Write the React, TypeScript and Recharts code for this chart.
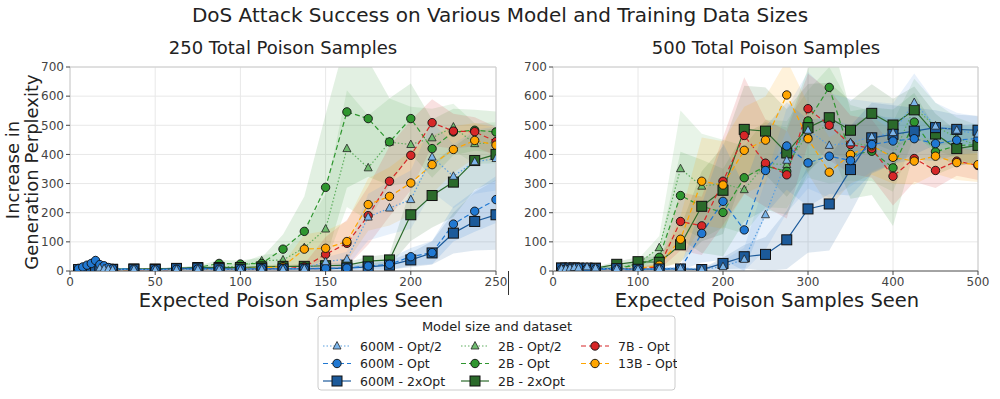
import React from "react";
import { ComposedChart, Line, Area, XAxis, YAxis, CartesianGrid, ReferenceLine } from "recharts";

const FONT = "'DejaVu Sans', sans-serif";

const yTicks = [0, 100, 200, 300, 400, 500, 600, 700];

// ---- 250 total poison samples (left panel) ----
const x250Small = [5, 7.5, 10, 12.5, 15, 17.5, 20, 22.5, 25, 37.5, 50, 62.5, 75, 87.5, 100, 112.5, 125, 137.5, 150, 162.5, 175, 187.5, 200, 212.5, 225, 237.5, 250];
const x250Half = [17.5, 20, 22.5, 25, 37.5, 50, 62.5, 75, 87.5, 100, 112.5, 125, 137.5, 150, 162.5, 175, 187.5, 200, 212.5, 225, 237.5, 250];
const x250 = [12.5, 25, 37.5, 50, 62.5, 75, 87.5, 100, 112.5, 125, 137.5, 150, 162.5, 175, 187.5, 200, 212.5, 225, 237.5, 250];

const m600half250 = [10, 8, 7, 5, 6, 4, 5, 6, 5, 5, 6, 6, 8, 32, 41, 185, 216, 245, 391, 325, 375, 386];
const m600halfErr250 = [10, 8, 6, 5, 3, 3, 3, 3, 3, 3, 3, 3, 4, 15, 25, 80, 90, 100, 120, 110, 110, 110];
const m600opt250 = [8, 14, 20, 26, 36, 22, 18, 12, 8, 6, 5, 6, 7, 6, 7, 8, 8, 8, 9, 10, 17, 23, 49, 63, 161, 205, 245];
const m600optErr250 = [5, 8, 12, 15, 20, 12, 8, 6, 4, 3, 3, 3, 3, 3, 3, 3, 3, 3, 5, 8, 12, 20, 30, 40, 60, 70, 80];
const m600x2_250 = [5, 6, 6, 6, 7, 6, 6, 6, 5, 6, 5, 8, 10, 8, 6, 8, 7, 7, 8, 10, 14, 20, 38, 62, 130, 170, 193];
const m600x2Err250 = [4, 5, 5, 5, 6, 5, 5, 5, 4, 3, 3, 3, 3, 3, 3, 3, 3, 3, 4, 6, 10, 15, 25, 40, 70, 100, 120];

const b2half250 = [5, 5, 6, 6, 7, 8, 14, 16, 35, 38, 80, 144, 420, 354, 442, 434, 457, 494, 437, 440];
const b2halfErr250 = [3, 3, 3, 3, 3, 4, 8, 10, 20, 25, 60, 120, 200, 180, 150, 130, 100, 80, 70, 70];
const b2opt250 = [6, 6, 6, 6, 8, 12, 26, 24, 26, 75, 136, 287, 546, 523, 443, 523, 420, 477, 483, 477];
const b2optErr250 = [3, 3, 3, 3, 4, 6, 12, 12, 20, 50, 120, 250, 260, 200, 150, 120, 100, 80, 70, 70];
const b2x2_250 = [6, 6, 7, 7, 9, 12, 12, 12, 14, 16, 16, 18, 20, 34, 38, 193, 259, 305, 379, 400];
const b2x2Err250 = [3, 3, 3, 3, 4, 5, 5, 5, 6, 6, 6, 8, 10, 15, 20, 90, 110, 120, 100, 90];
const b7opt250 = [5, 5, 5, 5, 5, 6, 6, 6, 7, 8, 14, 57, 95, 190, 308, 397, 509, 480, 478, 444];
const b7Err250 = [3, 3, 3, 3, 3, 3, 3, 3, 4, 6, 10, 60, 80, 100, 120, 120, 80, 60, 50, 50];
const b13opt250 = [5, 5, 5, 6, 6, 6, 7, 8, 10, 15, 75, 78, 101, 228, 256, 302, 365, 417, 448, 432];
const b13Err250 = [3, 3, 3, 3, 3, 3, 4, 5, 6, 10, 50, 60, 70, 90, 100, 110, 100, 80, 60, 60];

// ---- 500 total poison samples (right panel) ----
const x500Small = [10, 15, 20, 25, 30, 40, 50, 75, 100, 125, 150, 175, 200, 225, 250, 275, 300, 325, 350, 375, 400, 425, 450, 475, 500];
const x500 = [10, 25, 50, 75, 100, 125, 150, 175, 200, 225, 250, 275, 300, 325, 350, 375, 400, 425, 450, 475, 500];

const m600half500 = [8, 8, 10, 12, 10, 14, 10, 8, 6, 8, 10, 6, 15, 40, 193, 380, 483, 431, 440, 461, 475, 578, 497, 483, 470];
const m600halfErr500 = [5, 5, 5, 5, 5, 6, 5, 4, 4, 4, 5, 5, 20, 40, 120, 180, 200, 180, 150, 120, 100, 100, 80, 60, 60];
const m600opt500 = [5, 6, 8, 10, 12, 8, 6, 5, 5, 6, 8, 129, 239, 141, 345, 429, 371, 394, 379, 434, 446, 454, 437, 449, 455];
const m600optErr500 = [4, 4, 5, 6, 6, 5, 4, 4, 4, 4, 6, 100, 200, 150, 150, 150, 150, 130, 120, 100, 80, 70, 60, 50, 50];
const m600x2_500 = [10, 10, 10, 10, 10, 10, 8, 8, 6, 7, 7, 5, 26, 49, 57, 107, 213, 230, 348, 457, 469, 480, 492, 486, 483];
const m600x2Err500 = [5, 5, 5, 5, 5, 5, 4, 4, 4, 4, 4, 4, 20, 40, 60, 100, 150, 160, 150, 120, 100, 80, 60, 50, 50];

const b2half500 = [8, 8, 8, 10, 25, 80, 351, 291, 300, 279, 369, 365, 470, 500, 440, 429, 392, 560, 497, 457, 430];
const b2halfErr500 = [4, 4, 4, 5, 15, 40, 200, 180, 150, 150, 150, 150, 150, 200, 130, 120, 120, 100, 80, 70, 70];
const b2opt500 = [8, 8, 8, 10, 21, 47, 259, 222, 201, 320, 360, 342, 515, 630, 398, 411, 354, 511, 409, 430, 434];
const b2optErr500 = [4, 4, 4, 5, 12, 30, 150, 160, 150, 150, 150, 150, 180, 200, 150, 150, 200, 100, 80, 70, 60];
const b2x2_500 = [10, 10, 10, 23, 32, 30, 90, 222, 277, 486, 480, 405, 492, 526, 483, 541, 501, 553, 470, 420, 431];
const b2x2Err500 = [5, 5, 5, 10, 15, 20, 60, 120, 150, 150, 150, 150, 150, 120, 100, 100, 90, 80, 70, 60, 60];
const b7opt500 = [6, 6, 6, 6, 8, 15, 170, 155, 308, 465, 370, 330, 557, 500, 434, 420, 325, 386, 345, 377, 362];
const b7Err500 = [4, 4, 4, 4, 6, 10, 100, 100, 150, 200, 150, 150, 120, 120, 100, 100, 100, 80, 60, 50, 50];
const b13opt500 = [6, 6, 6, 6, 8, 20, 109, 308, 295, 414, 449, 604, 454, 339, 400, 430, 390, 377, 394, 372, 365];
const b13Err500 = [4, 4, 4, 4, 6, 12, 80, 150, 150, 150, 150, 120, 120, 120, 100, 100, 90, 80, 60, 60, 60];

type Shape = "triangle" | "circle" | "square";
type Style = { name: string; color: string; marker: string; dash?: string; shape: Shape };

const styles: Record<string, Style> = {
  m600half: { name: "600M - Opt/2", color: "#5a9fe0", marker: "#7cb5ea", dash: "1.5 2", shape: "triangle" },
  m600opt: { name: "600M - Opt", color: "#2078d2", marker: "#2078d2", dash: "5 3", shape: "circle" },
  m600x2: { name: "600M - 2xOpt", color: "#1c5a9a", marker: "#1c5a9a", shape: "square" },
  b2half: { name: "2B - Opt/2", color: "#5fae5f", marker: "#6fbb6f", dash: "1.5 2", shape: "triangle" },
  b2opt: { name: "2B - Opt", color: "#2f962f", marker: "#2f962f", dash: "5 3", shape: "circle" },
  b2x2: { name: "2B - 2xOpt", color: "#2b6a2b", marker: "#2b6a2b", shape: "square" },
  b7: { name: "7B - Opt", color: "#d62728", marker: "#d62728", dash: "5 3", shape: "circle" },
  b13: { name: "13B - Opt", color: "#ffa500", marker: "#ffa500", dash: "5 3", shape: "circle" },
};

const build = (xs: number[], ys: number[], err: number[]) =>
  xs.map((x, i) => ({ x, y: ys[i], band: [Math.max(0, ys[i] - err[i]), ys[i] + err[i]] }));

// draw order: back to front
const left = [
  { k: "b2half", d: build(x250, b2half250, b2halfErr250) },
  { k: "b2opt", d: build(x250, b2opt250, b2optErr250) },
  { k: "b2x2", d: build(x250, b2x2_250, b2x2Err250) },
  { k: "b7", d: build(x250, b7opt250, b7Err250) },
  { k: "b13", d: build(x250, b13opt250, b13Err250) },
  { k: "m600x2", d: build(x250Small, m600x2_250, m600x2Err250) },
  { k: "m600opt", d: build(x250Small, m600opt250, m600optErr250) },
  { k: "m600half", d: build(x250Half, m600half250, m600halfErr250) },
];

const right = [
  { k: "b2half", d: build(x500, b2half500, b2halfErr500) },
  { k: "b2opt", d: build(x500, b2opt500, b2optErr500) },
  { k: "b2x2", d: build(x500, b2x2_500, b2x2Err500) },
  { k: "b7", d: build(x500, b7opt500, b7Err500) },
  { k: "b13", d: build(x500, b13opt500, b13Err500) },
  { k: "m600x2", d: build(x500Small, m600x2_500, m600x2Err500) },
  { k: "m600opt", d: build(x500Small, m600opt500, m600optErr500) },
  { k: "m600half", d: build(x500Small, m600half500, m600halfErr500) },
];

const markerEl = (shape: Shape, cx: number, cy: number, fill: string, key?: any) => {
  if (shape === "square")
    return <rect key={key} x={cx - 5} y={cy - 5} width={10} height={10} fill={fill} stroke="#111" strokeWidth={1} />;
  if (shape === "circle")
    return <circle key={key} cx={cx} cy={cy} r={4.2} fill={fill} stroke="#111" strokeWidth={0.9} />;
  return (
    <path key={key} d={`M${cx},${cy - 4.5}L${cx + 4},${cy + 3}L${cx - 4},${cy + 3}Z`} fill={fill} stroke="#222" strokeWidth={0.8} />
  );
};

const makeDot = (s: Style) => (p: any) => {
  const { cx, cy, index } = p;
  if (cx == null || cy == null || isNaN(cy)) return <g key={"e" + index} />;
  return markerEl(s.shape, cx, cy, s.marker, "d" + index);
};

const tickStyle = { fontSize: 12, fill: "#444", fontFamily: FONT };

function Panel(props: { series: { k: string; d: any[] }[]; xMax: number; xTicks: number[]; left: number; width: number; yWidth: number; rightMargin: number }) {
  const { series, xMax, xTicks, width, yWidth, rightMargin } = props;
  return (
    <div style={{ position: "absolute", left: props.left, top: 0 }}>
      <ComposedChart width={width} height={310} margin={{ top: 67, right: rightMargin, bottom: 0, left: 0 }}>
        <CartesianGrid stroke="#e8e8e8" />
        <XAxis
          type="number"
          dataKey="x"
          domain={[0, xMax]}
          ticks={xTicks}
          allowDataOverflow
          height={39}
          tick={tickStyle}
          tickLine={{ stroke: "#444" }}
          axisLine={{ stroke: "#555" }}
          tickSize={4}
        />
        <YAxis
          type="number"
          domain={[0, 700]}
          ticks={yTicks}
          allowDataOverflow
          width={yWidth}
          tick={tickStyle}
          tickLine={{ stroke: "#444" }}
          axisLine={{ stroke: "#ccc" }}
          tickSize={4}
        />
        <ReferenceLine y={700} stroke="#ccc" />
        <ReferenceLine x={xMax} stroke="#ccc" />
        {series.map((s) => (
          <Area
            key={"band-" + s.k}
            data={s.d}
            dataKey="band"
            type="linear"
            stroke="none"
            fill={styles[s.k].color}
            fillOpacity={0.14}
            isAnimationActive={false}
            activeDot={false}
          />
        ))}
        {series.map((s) => (
          <Line
            key={"line-" + s.k}
            data={s.d}
            dataKey="y"
            type="linear"
            stroke={styles[s.k].color}
            strokeWidth={1.2}
            strokeDasharray={styles[s.k].dash}
            dot={makeDot(styles[s.k])}
            activeDot={false}
            isAnimationActive={false}
          />
        ))}
      </ComposedChart>
    </div>
  );
}

const legendCols = [
  ["m600half", "m600opt", "m600x2"],
  ["b2half", "b2opt", "b2x2"],
  ["b7", "b13"],
];

function LegendBox() {
  const colX = [4, 142, 262];
  return (
    <svg width={360} height={76} style={{ position: "absolute", left: 317, top: 315 }}>
      <rect x={1} y={1} width={357} height={74} rx={3} fill="#fff" stroke="#ccc" />
      <text x={180} y={16} textAnchor="middle" fontFamily={FONT} fontSize={13} fill="#222">
        Model size and dataset
      </text>
      {legendCols.map((col, ci) =>
        col.map((k, ri) => {
          const s = styles[k];
          const y = 31 + ri * 17.5;
          const x0 = colX[ci];
          return (
            <g key={k}>
              <line x1={x0 + 2} x2={x0 + 30} y1={y} y2={y} stroke={s.color} strokeWidth={1.2} strokeDasharray={s.dash} />
              {markerEl(s.shape, x0 + 16, y, s.marker)}
              <text x={x0 + 39} y={y + 4.5} fontFamily={FONT} fontSize={12.5} fill="#222">
                {s.name}
              </text>
            </g>
          );
        })
      )}
    </svg>
  );
}

export default function App() {
  return (
    <div style={{ position: "absolute", left: 0, top: 0, width: 1000, height: 399, background: "#fff", fontFamily: FONT }}>
      <Panel series={left} xMax={250} xTicks={[0, 50, 100, 150, 200, 250]} left={0} width={510} yWidth={70} rightMargin={14} />
      <Panel series={right} xMax={500} xTicks={[0, 100, 200, 300, 400, 500]} left={510} width={480} yWidth={43} rightMargin={12} />
      <div style={{ position: "absolute", left: 508, top: 271, width: 1, height: 24, background: "#333" }} />
      <svg width={1000} height={399} style={{ position: "absolute", left: 0, top: 0, pointerEvents: "none" }}>
        <g fontFamily={FONT} fill="#222">
          <text x={500} y={22} textAnchor="middle" fontSize={20}>
            DoS Attack Success on Various Model and Training Data Sizes
          </text>
          <text x={283} y={54} textAnchor="middle" fontSize={18}>
            250 Total Poison Samples
          </text>
          <text x={766} y={54} textAnchor="middle" fontSize={18}>
            500 Total Poison Samples
          </text>
          <text x={291} y={307} textAnchor="middle" fontSize={19.5}>
            Expected Poison Samples Seen
          </text>
          <text x={767} y={307} textAnchor="middle" fontSize={19.5}>
            Expected Poison Samples Seen
          </text>
          <text transform="translate(19,170) rotate(-90)" textAnchor="middle" fontSize={18}>
            Increase in
          </text>
          <text transform="translate(38,172) rotate(-90)" textAnchor="middle" fontSize={18}>
            Generation Perplexity
          </text>
        </g>
      </svg>
      <LegendBox />
    </div>
  );
}
